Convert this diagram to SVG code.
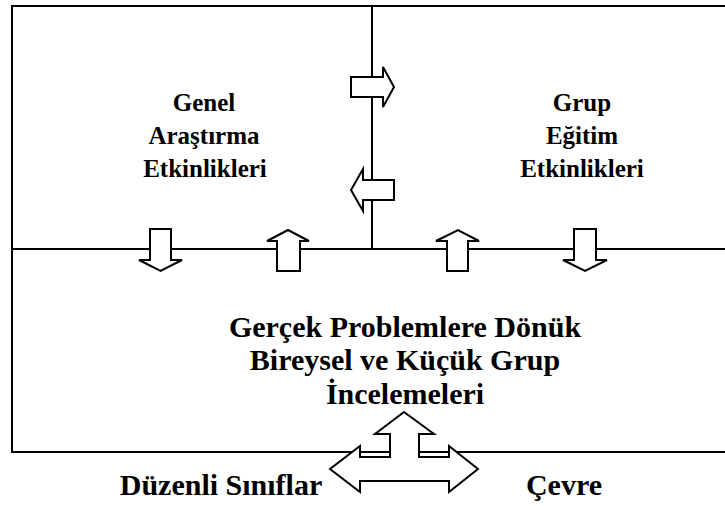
<svg xmlns="http://www.w3.org/2000/svg" width="725" height="506" viewBox="0 0 725 506">
  <style>
    .frame { stroke: #000; stroke-width: 2; fill: none; }
    .arrow { stroke: #000; stroke-width: 2; fill: #fff; stroke-linejoin: miter; }
    .label { font-family: 'Liberation Serif', 'Times New Roman', serif; font-weight: 700; font-size: 30px; fill: #000; text-anchor: middle; }
    .label.small { font-size: 25px; }
  </style>
  <rect width="725" height="506" fill="#fff"/>

  <!-- frame lines -->
  <g id="frame">
    <line class="frame" x1="12" y1="6" x2="725" y2="6"/>
    <line class="frame" x1="12" y1="5" x2="12" y2="453"/>
    <line class="frame" x1="12" y1="249" x2="725" y2="249"/>
    <line class="frame" x1="12" y1="452" x2="725" y2="452"/>
    <line class="frame" x1="372" y1="6" x2="372" y2="249"/>
  </g>

  <g id="node-genel">
    <text class="label small" x="204" y="111">Genel</text>
    <text class="label small" x="204" y="144">Araştırma</text>
    <text class="label small" x="205" y="177">Etkinlikleri</text>
  </g>

  <g id="node-grup">
    <text class="label small" x="582" y="111">Grup</text>
    <text class="label small" x="582" y="144">Eğitim</text>
    <text class="label small" x="582" y="177">Etkinlikleri</text>
  </g>

  <g id="node-inceleme">
    <text class="label" x="405" y="337">Gerçek Problemlere Dönük</text>
    <text class="label" x="405" y="370">Bireysel ve Küçük Grup</text>
    <text class="label" x="405" y="404">İncelemeleri</text>
  </g>

  <g id="node-siniflar">
    <text class="label" x="221" y="495">Düzenli Sınıflar</text>
  </g>

  <g id="node-cevre">
    <text class="label" x="564" y="495">Çevre</text>
  </g>

  <!-- block arrows -->
  <g id="connectors">
    <!-- right, between the upper boxes -->
    <path class="arrow" d="M351,77 H383 V67 L394,87 L383,107 V97 H351 Z"/>
    <!-- left, between the upper boxes -->
    <path class="arrow" d="M394,180 H363 V169 L351,190 L363,211 V200 H394 Z"/>
    <!-- down, left box to lower box -->
    <path class="arrow" d="M150,229 H171 V260 H182 L160.5,271 L139,260 H150 Z"/>
    <!-- up, lower box to left box -->
    <path class="arrow" d="M277,271 V241 H267 L288,230 L309,241 H300 V271 Z"/>
    <!-- up, lower box to right box -->
    <path class="arrow" d="M447,271 V241 H436 L458,230 L479,241 H468 V271 Z"/>
    <!-- down, right box to lower box -->
    <path class="arrow" d="M574,229 H596 V260 H607 L585,271 L563,260 H574 Z"/>
    <!-- three-way arrow at the bottom -->
    <path class="arrow" d="M404,412 L434,434 H419 V457 H449 V446 L478,469 L449,492 V481 H360 V492 L330,469 L360,446 V457 H390 V434 H375 Z"/>
  </g>
</svg>
